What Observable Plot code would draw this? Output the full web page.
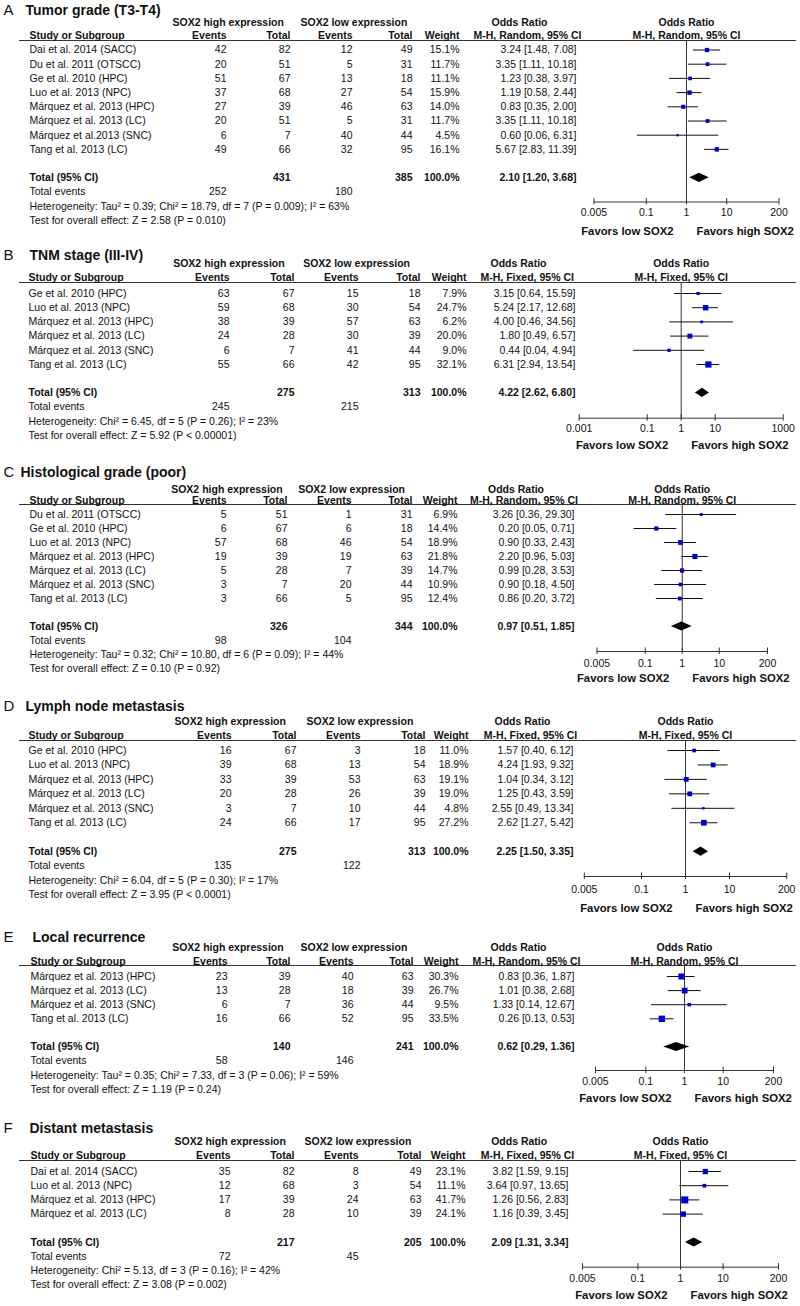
<!DOCTYPE html>
<html><head><meta charset="utf-8">
<script src="https://cdn.jsdelivr.net/npm/d3@7"></script>
<script src="https://cdn.jsdelivr.net/npm/@observablehq/plot@0.6"></script>
<style>
body{margin:0;background:#fff;}
#page{position:relative;width:800px;height:1306px;overflow:hidden;background:#fff;}
.panel{position:absolute;left:0;width:800px;}
.panel svg{position:absolute;left:0;top:0;}
</style></head><body><div id="page"></div>
<script>
// ---------------- DATA ----------------
// A  Tumor grade (T3-T4)
const studiesA = ["Dai et al. 2014 (SACC)","Du et al. 2011 (OTSCC)","Ge et al. 2010 (HPC)","Luo et al. 2013 (NPC)","Márquez et al. 2013 (HPC)","Márquez et al. 2013 (LC)","Márquez et al.2013 (SNC)","Tang et al. 2013 (LC)"];
const hiEventsA = [42,20,51,37,27,20,6,49];
const hiTotalA  = [82,51,67,68,39,51,7,66];
const loEventsA = [12,5,13,27,46,5,40,32];
const loTotalA  = [49,31,18,54,63,31,44,95];
const weightA   = [15.1,11.7,11.1,15.9,14.0,11.7,4.5,16.1];
const orA       = [3.24,3.35,1.23,1.19,0.83,3.35,0.60,5.67];
const ciLowA    = [1.48,1.11,0.38,0.58,0.35,1.11,0.06,2.83];
const ciHighA   = [7.08,10.18,3.97,2.44,2.00,10.18,6.31,11.39];
const totalsA   = [431,385];
const totalEventsA = [252,180];
const pooledA   = [2.10,1.20,3.68];
const hetA  = "Heterogeneity: Tau² = 0.39; Chi² = 18.79, df = 7 (P = 0.009); I² = 63%";
const testA = "Test for overall effect: Z = 2.58 (P = 0.010)";
const ticksA = [0.005,0.1,1,10,200];

// B  TNM stage (III-IV)
const studiesB = ["Ge et al. 2010 (HPC)","Luo et al. 2013 (NPC)","Márquez et al. 2013 (HPC)","Márquez et al. 2013 (LC)","Márquez et al. 2013 (SNC)","Tang et al. 2013 (LC)"];
const hiEventsB = [63,59,38,24,6,55];
const hiTotalB  = [67,68,39,28,7,66];
const loEventsB = [15,30,57,30,41,42];
const loTotalB  = [18,54,63,39,44,95];
const weightB   = [7.9,24.7,6.2,20.0,9.0,32.1];
const orB       = [3.15,5.24,4.00,1.80,0.44,6.31];
const ciLowB    = [0.64,2.17,0.46,0.49,0.04,2.94];
const ciHighB   = [15.59,12.68,34.56,6.57,4.94,13.54];
const totalsB   = [275,313];
const totalEventsB = [245,215];
const pooledB   = [4.22,2.62,6.80];
const hetB  = "Heterogeneity: Chi² = 6.45, df = 5 (P = 0.26); I² = 23%";
const testB = "Test for overall effect: Z = 5.92 (P < 0.00001)";
const ticksB = [0.001,0.1,1,10,1000];

// C  Histological grade (poor)
const studiesC = ["Du et al. 2011 (OTSCC)","Ge et al. 2010 (HPC)","Luo et al. 2013 (NPC)","Márquez et al. 2013 (HPC)","Márquez et al. 2013 (LC)","Márquez et al. 2013 (SNC)","Tang et al. 2013 (LC)"];
const hiEventsC = [5,6,57,19,5,3,3];
const hiTotalC  = [51,67,68,39,28,7,66];
const loEventsC = [1,6,46,19,7,20,5];
const loTotalC  = [31,18,54,63,39,44,95];
const weightC   = [6.9,14.4,18.9,21.8,14.7,10.9,12.4];
const orC       = [3.26,0.20,0.90,2.20,0.99,0.90,0.86];
const ciLowC    = [0.36,0.05,0.33,0.96,0.28,0.18,0.20];
const ciHighC   = [29.30,0.71,2.43,5.03,3.53,4.50,3.72];
const totalsC   = [326,344];
const totalEventsC = [98,104];
const pooledC   = [0.97,0.51,1.85];
const hetC  = "Heterogeneity: Tau² = 0.32; Chi² = 10.80, df = 6 (P = 0.09); I² = 44%";
const testC = "Test for overall effect: Z = 0.10 (P = 0.92)";
const ticksC = [0.005,0.1,1,10,200];

// D  Lymph node metastasis
const studiesD = ["Ge et al. 2010 (HPC)","Luo et al. 2013 (NPC)","Márquez et al. 2013 (HPC)","Márquez et al. 2013 (LC)","Márquez et al. 2013 (SNC)","Tang et al. 2013 (LC)"];
const hiEventsD = [16,39,33,20,3,24];
const hiTotalD  = [67,68,39,28,7,66];
const loEventsD = [3,13,53,26,10,17];
const loTotalD  = [18,54,63,39,44,95];
const weightD   = [11.0,18.9,19.1,19.0,4.8,27.2];
const orD       = [1.57,4.24,1.04,1.25,2.55,2.62];
const ciLowD    = [0.40,1.93,0.34,0.43,0.49,1.27];
const ciHighD   = [6.12,9.32,3.12,3.59,13.34,5.42];
const totalsD   = [275,313];
const totalEventsD = [135,122];
const pooledD   = [2.25,1.50,3.35];
const hetD  = "Heterogeneity: Chi² = 6.04, df = 5 (P = 0.30); I² = 17%";
const testD = "Test for overall effect: Z = 3.95 (P < 0.0001)";
const ticksD = [0.005,0.1,1,10,200];

// E  Local recurrence
const studiesE = ["Márquez et al. 2013 (HPC)","Márquez et al. 2013 (LC)","Márquez et al. 2013 (SNC)","Tang et al. 2013 (LC)"];
const hiEventsE = [23,13,6,16];
const hiTotalE  = [39,28,7,66];
const loEventsE = [40,18,36,52];
const loTotalE  = [63,39,44,95];
const weightE   = [30.3,26.7,9.5,33.5];
const orE       = [0.83,1.01,1.33,0.26];
const ciLowE    = [0.36,0.38,0.14,0.13];
const ciHighE   = [1.87,2.68,12.67,0.53];
const totalsE   = [140,241];
const totalEventsE = [58,146];
const pooledE   = [0.62,0.29,1.36];
const hetE  = "Heterogeneity: Tau² = 0.35; Chi² = 7.33, df = 3 (P = 0.06); I² = 59%";
const testE = "Test for overall effect: Z = 1.19 (P = 0.24)";
const ticksE = [0.005,0.1,1,10,200];

// F  Distant metastasis
const studiesF = ["Dai et al. 2014 (SACC)","Luo et al. 2013 (NPC)","Márquez et al. 2013 (HPC)","Márquez et al. 2013 (LC)"];
const hiEventsF = [35,12,17,8];
const hiTotalF  = [82,68,39,28];
const loEventsF = [8,3,24,10];
const loTotalF  = [49,54,63,39];
const weightF   = [23.1,11.1,41.7,24.1];
const orF       = [3.82,3.64,1.26,1.16];
const ciLowF    = [1.59,0.97,0.56,0.39];
const ciHighF   = [9.15,13.65,2.83,3.45];
const totalsF   = [217,205];
const totalEventsF = [72,45];
const pooledF   = [2.09,1.31,3.34];
const hetF  = "Heterogeneity: Chi² = 5.13, df = 3 (P = 0.16); I² = 42%";
const testF = "Test for overall effect: Z = 3.08 (P = 0.002)";
const ticksF = [0.005,0.1,1,10,200];

const panelLetters = ["A","B","C","D","E","F"];
const panelTitles = ["Tumor grade (T3-T4)","TNM stage (III-IV)","Histological grade (poor)","Lymph node metastasis","Local recurrence","Distant metastasis"];
const panelMethods = ["Random","Fixed","Random","Fixed","Random","Fixed"];

// ---------------- LAYOUT (page pixels) ----------------
const layouts = [
  {T:0,    H:240, titleY:10,   titleX:25, soxY:22,    hdrY:35,    lineY:40,   first:49.5, step:14.2,  axisY:201.5, tickY:212,    favY:231,  cols:[29,226,290,352,412,459,576], soxHiX:172,   soxLoX:300,   orHdrX:519,   mhX:527,   range:[593.5,778.5]},
  {T:240,  H:215, titleY:255,  titleX:29, soxY:263,   hdrY:277.5, lineY:282,  first:293,  step:14.2,  axisY:417.7, tickY:428,    favY:445,  cols:[28,229,294,358,420,466,575], soxHiX:172.7, soxLoX:302.7, orHdrX:518,   mhX:526.7, range:[578.7,782.7]},
  {T:455,  H:235, titleY:472,  titleX:20, soxY:489,   hdrY:500,   lineY:504,  first:514,  step:14.0,  axisY:651,   tickY:662.7,  favY:678.3,cols:[29,226,287,351,412,457,574], soxHiX:170.7, soxLoX:297.7, orHdrX:515.5, mhX:523.5, range:[596.5,767]},
  {T:690,  H:225, titleY:706,  titleX:25, soxY:721,   hdrY:735.5, lineY:740,  first:750,  step:14.45, axisY:876,   tickY:889.3,  favY:908,  cols:[28,231,296,360,425,468,573], soxHiX:174,   soxLoX:306,   orHdrX:522,   mhX:530,   range:[583.8,786.2]},
  {T:915,  H:190, titleY:937,  titleX:32, soxY:947,   hdrY:961,   lineY:965,  first:976,  step:14.1,  axisY:1070,  tickY:1081,   favY:1098, cols:[30,227,290,353,413,458,574], soxHiX:171.7, soxLoX:300,   orHdrX:518,   mhX:526,   range:[595,773]},
  {T:1105, H:201, titleY:1128, titleX:29, soxY:1141.5,hdrY:1155.5,lineY:1160, first:1171, step:14.2,  axisY:1266.7,tickY:1278.3, favY:1295, cols:[30,230,294,358,421,465,568], soxHiX:174,   soxLoX:304,   orHdrX:518.7, mhX:527,   range:[582,778]}
];

const panels = [
  {studies:studiesA,hiE:hiEventsA,hiT:hiTotalA,loE:loEventsA,loT:loTotalA,w:weightA,or:orA,lo:ciLowA,hi:ciHighA,totals:totalsA,tev:totalEventsA,pooled:pooledA,het:hetA,test:testA,ticks:ticksA},
  {studies:studiesB,hiE:hiEventsB,hiT:hiTotalB,loE:loEventsB,loT:loTotalB,w:weightB,or:orB,lo:ciLowB,hi:ciHighB,totals:totalsB,tev:totalEventsB,pooled:pooledB,het:hetB,test:testB,ticks:ticksB},
  {studies:studiesC,hiE:hiEventsC,hiT:hiTotalC,loE:loEventsC,loT:loTotalC,w:weightC,or:orC,lo:ciLowC,hi:ciHighC,totals:totalsC,tev:totalEventsC,pooled:pooledC,het:hetC,test:testC,ticks:ticksC},
  {studies:studiesD,hiE:hiEventsD,hiT:hiTotalD,loE:loEventsD,loT:loTotalD,w:weightD,or:orD,lo:ciLowD,hi:ciHighD,totals:totalsD,tev:totalEventsD,pooled:pooledD,het:hetD,test:testD,ticks:ticksD},
  {studies:studiesE,hiE:hiEventsE,hiT:hiTotalE,loE:loEventsE,loT:loTotalE,w:weightE,or:orE,lo:ciLowE,hi:ciHighE,totals:totalsE,tev:totalEventsE,pooled:pooledE,het:hetE,test:testE,ticks:ticksE},
  {studies:studiesF,hiE:hiEventsF,hiT:hiTotalF,loE:loEventsF,loT:loTotalF,w:weightF,or:orF,lo:ciLowF,hi:ciHighF,totals:totalsF,tev:totalEventsF,pooled:pooledF,het:hetF,test:testF,ticks:ticksF}
];

// ---------------- DRAW ----------------
const FONT = "Liberation Sans, Arial, Helvetica, sans-serif";
const BLUE = "#0000cc";
const FS = 10.5;
const page = document.getElementById("page");
const f2 = v => v.toFixed(2);
const orText = (o, l, h) => `${f2(o)} [${f2(l)}, ${f2(h)}]`;

function drawPanel(k) {
  const P = panels[k], L = layouts[k];
  const n = P.studies.length;
  const rowOf = py => (py - L.first) / L.step;
  const yScale = {type: "linear", domain: [rowOf(L.T), rowOf(L.T + L.H)], range: [0, L.H], axis: null};
  const iTot = n + 1, iEv = n + 2, iHet = n + 3, iTest = n + 4;
  const rows = P.studies.map((s, i) => ({i, study: s, hiE: P.hiE[i], hiT: P.hiT[i], loE: P.loE[i], loT: P.loT[i],
    w: P.w[i], or: P.or[i], lo: P.lo[i], hi: P.hi[i]}));
  const C = L.cols;

  const normStart = [], normEnd = [], boldStart = [], boldEnd = [], boldMid = [], hdrStart = [], hdrEnd = [], hdrMid = [];
  rows.forEach(r => {
    normStart.push({x: C[0], y: r.i, t: r.study});
    normEnd.push({x: C[1], y: r.i, t: String(r.hiE)});
    normEnd.push({x: C[2], y: r.i, t: String(r.hiT)});
    normEnd.push({x: C[3], y: r.i, t: String(r.loE)});
    normEnd.push({x: C[4], y: r.i, t: String(r.loT)});
    normEnd.push({x: C[5], y: r.i, t: r.w.toFixed(1) + "%"});
    normEnd.push({x: C[6], y: r.i, t: orText(r.or, r.lo, r.hi)});
  });
  boldStart.push({x: C[0], y: iTot, t: "Total (95% CI)"});
  boldEnd.push({x: C[2], y: iTot, t: String(P.totals[0])});
  boldEnd.push({x: C[4], y: iTot, t: String(P.totals[1])});
  boldEnd.push({x: C[5], y: iTot, t: "100.0%"});
  boldEnd.push({x: C[6], y: iTot, t: orText(P.pooled[0], P.pooled[1], P.pooled[2])});
  normStart.push({x: C[0], y: iEv, t: "Total events"});
  normEnd.push({x: C[1], y: iEv, t: String(P.tev[0])});
  normEnd.push({x: C[3], y: iEv, t: String(P.tev[1])});
  normStart.push({x: C[0], y: iHet, t: P.het});
  normStart.push({x: C[0], y: iTest, t: P.test});
  boldStart.push({x: L.soxHiX, y: rowOf(L.soxY), t: "SOX2 high expression"});
  boldStart.push({x: L.soxLoX, y: rowOf(L.soxY), t: "SOX2 low expression"});
  boldMid.push({x: L.orHdrX, y: rowOf(L.soxY), t: "Odds Ratio"});
  hdrStart.push({x: C[0], y: rowOf(L.hdrY), t: "Study or Subgroup"});
  hdrEnd.push({x: C[1], y: rowOf(L.hdrY), t: "Events"});
  hdrEnd.push({x: C[2], y: rowOf(L.hdrY), t: "Total"});
  hdrEnd.push({x: C[3], y: rowOf(L.hdrY), t: "Events"});
  hdrEnd.push({x: C[4], y: rowOf(L.hdrY), t: "Total"});
  hdrEnd.push({x: C[5], y: rowOf(L.hdrY), t: "Weight"});
  hdrMid.push({x: L.mhX, y: rowOf(L.hdrY), t: `M-H, ${panelMethods[k]}, 95% CI`});

  const txt = (data, opts) => Plot.text(data, {x: "x", y: "y", text: "t", fontFamily: FONT, fontSize: FS, ...opts});

  const table = Plot.plot({
    width: 800, height: L.H,
    marginTop: 0, marginRight: 0, marginBottom: 0, marginLeft: 0,
    style: "background: transparent; overflow: visible; color: #111;",
    x: {type: "identity", axis: null},
    y: yScale,
    marks: [
      Plot.text([panelLetters[k]], {x: () => 3, y: () => rowOf(L.titleY), text: d => d, textAnchor: "start", fontFamily: FONT, fontSize: 15}),
      Plot.text([panelTitles[k]], {x: () => L.titleX, y: () => rowOf(L.titleY), text: d => d, textAnchor: "start", fontFamily: FONT, fontSize: 14, fontWeight: "bold"}),
      Plot.ruleY([rowOf(L.lineY)], {x1: () => 19, x2: () => 796, stroke: "#333", strokeWidth: 1}),
      txt(normStart, {textAnchor: "start"}),
      txt(normEnd, {textAnchor: "end"}),
      txt(boldStart, {textAnchor: "start", fontWeight: "bold"}),
      txt(boldEnd, {textAnchor: "end", fontWeight: "bold"}),
      txt(boldMid, {textAnchor: "middle", fontWeight: "bold"}),
      txt(hdrStart, {textAnchor: "start", fontWeight: "bold", ariaLabel: "hdr-s"}),
      txt(hdrEnd, {textAnchor: "end", fontWeight: "bold", ariaLabel: "hdr-e"}),
      txt(hdrMid, {textAnchor: "middle", fontWeight: "bold", ariaLabel: "hdr-m"})
    ]
  });

  const dom = [P.ticks[0], P.ticks[P.ticks.length - 1]];
  const dh = 4.6 / L.step;
  const diamond = [
    {y: iTot - dh, x1: P.pooled[0], x2: P.pooled[0]},
    {y: iTot,      x1: P.pooled[1], x2: P.pooled[2]},
    {y: iTot + dh, x1: P.pooled[0], x2: P.pooled[0]}
  ];
  const forest = Plot.plot({
    width: 800, height: L.H,
    marginTop: 0, marginRight: 0, marginBottom: 0, marginLeft: 0,
    style: "background: transparent; overflow: visible; color: #111;",
    x: {type: "log", domain: dom, range: L.range, axis: null},
    y: yScale,
    r: {type: "sqrt", domain: [0, 100], range: [0, 6.2]},
    marks: [
      Plot.ruleX([1], {x: d => d, y1: () => rowOf(L.lineY), y2: () => rowOf(L.axisY), stroke: "#333", strokeWidth: 1}),
      Plot.ruleY(rows, {y: "i", x1: "lo", x2: "hi", stroke: "#111", strokeWidth: 1}),
      Plot.dot(rows, {x: "or", y: "i", r: "w", symbol: "square", fill: BLUE, stroke: null}),
      Plot.areaX(diamond, {y: "y", x1: "x1", x2: "x2", fill: "#000"}),
      Plot.ruleY([rowOf(L.axisY)], {x1: () => dom[0], x2: () => dom[1], stroke: "#333", strokeWidth: 1}),
      Plot.ruleX(P.ticks, {x: d => d, y1: () => rowOf(L.axisY - 3.5), y2: () => rowOf(L.axisY + 3), stroke: "#333", strokeWidth: 1}),
      Plot.text(P.ticks, {x: d => d, y: () => rowOf(L.tickY), text: d => String(d), textAnchor: "middle", fontFamily: FONT, fontSize: FS}),
      Plot.text(["Odds Ratio"], {x: () => 1, y: () => rowOf(L.soxY), text: d => d, fontWeight: "bold", fontFamily: FONT, fontSize: FS}),
      Plot.text([`M-H, ${panelMethods[k]}, 95% CI`], {x: () => 1, y: () => rowOf(L.hdrY), text: d => d, fontWeight: "bold", fontFamily: FONT, fontSize: FS, ariaLabel: "hdr-f"}),
      Plot.text(["Favors low SOX2"], {x: () => 1, y: () => rowOf(L.favY), text: d => d, textAnchor: "end", dx: -13, fontWeight: "bold", fontFamily: FONT, fontSize: 11.3}),
      Plot.text(["Favors high SOX2"], {x: () => 1, y: () => rowOf(L.favY), text: d => d, textAnchor: "start", dx: 10, fontWeight: "bold", fontFamily: FONT, fontSize: 11.3})
    ]
  });

  const div = document.createElement("div");
  div.className = "panel";
  div.style.top = L.T + "px";
  div.style.height = L.H + "px";
  div.appendChild(table);
  div.appendChild(forest);
  page.appendChild(div);
  d3.select(div).selectAll('g[aria-label^="hdr"] text').style("text-decoration", "underline");
}

for (let k = 0; k < panels.length; k++) drawPanel(k);
</script>
</body></html>
